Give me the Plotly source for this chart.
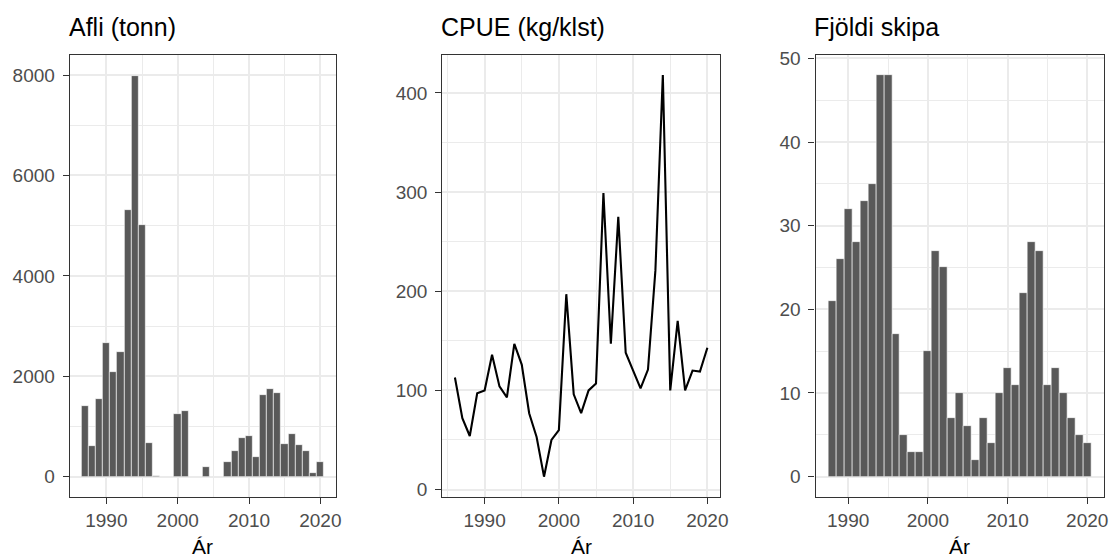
import plotly.graph_objects as go

# ---- data ----
afli_years = list(range(1987, 2021))
afli = [1400, 610, 1550, 2670, 2080, 2480, 5320, 7990, 5020, 670, 10,
        None, None, 1250, 1300, None, None, 200, None, None,
        300, 520, 770, 810, 400, 1630, 1750, 1670, 650, 840, 630, 510, 80, 290]

cpue_years = list(range(1986, 2021))
cpue = [113, 72, 54, 97, 100, 136, 104, 93, 147, 126, 77, 53, 13, 50, 60,
        197, 96, 77, 100, 107, 299, 147, 275, 138, 120, 102, 121, 221, 418,
        100, 170, 100, 120, 119, 143]

skip_years = list(range(1988, 2021))
skip = [21, 26, 32, 28, 33, 35, 48, 48, 17, 5, 3, 3, 15, 27, 25, 7, 10, 6, 2, 7,
        4, 10, 13, 11, 22, 28, 27, 11, 13, 10, 7, 5, 4]

titles = ["Afli (tonn)", "CPUE (kg/klst)", "Fjöldi skipa"]
xlabel = "Ár"

W, H = 1113, 559
FONT = "Liberation Sans, Arial, sans-serif"

def px_x(p):
    return p / W

def px_y(p):
    return (H - p) / H

top_px, bot_px = 55, 496.7
ydom = [px_y(bot_px), px_y(top_px)]
xdoms = [[px_x(69.7), px_x(335.7)], [px_x(442.3), px_x(720)], [px_x(815.5), px_x(1104)]]
xranges = [[1984.86, 2022.15], [1984.3, 2021.7], [1985.9, 2022.1]]
yranges = [[-400, 8400], [-7.2, 438.2], [-2.4, 50.4]]
ydticks = [2000, 100, 10]

fig = go.Figure()
fig.add_trace(go.Bar(x=afli_years, y=afli, marker=dict(color="#595959", line=dict(color="rgba(255,255,255,0.85)", width=0.7)),
                     xaxis="x", yaxis="y", showlegend=False))
fig.add_trace(go.Scatter(x=cpue_years, y=cpue, mode="lines", line=dict(color="black", width=2.1),
                         xaxis="x2", yaxis="y2", showlegend=False))
fig.add_trace(go.Bar(x=skip_years, y=skip, marker=dict(color="#595959", line=dict(color="rgba(255,255,255,0.85)", width=0.7)),
                     xaxis="x3", yaxis="y3", showlegend=False))

common = dict(showline=True, mirror=True, linecolor="#333333", linewidth=1.1,
              ticks="outside", ticklen=6, tickwidth=1.2, tickcolor="#333333",
              showgrid=True, gridcolor="#EBEBEB", gridwidth=1.5, zeroline=False,
              automargin=False,
              tickfont=dict(family=FONT, size=19, color="#4D4D4D"))

layout = dict(width=W, height=H, margin=dict(l=0, r=0, t=0, b=0, pad=0, autoexpand=False),
              plot_bgcolor="white", paper_bgcolor="white", bargap=0,
              font=dict(family=FONT), showlegend=False)

annotations = []
for i in range(3):
    sx = "" if i == 0 else str(i + 1)
    layout["xaxis" + sx] = dict(domain=xdoms[i], range=xranges[i], anchor="y" + sx,
                                tickmode="linear", tick0=1990, dtick=10,
                                minor=dict(tick0=1985, dtick=5, showgrid=True, gridcolor="#EBEBEB",
                                           gridwidth=0.8, ticklen=0),
                                **common)
    layout["yaxis" + sx] = dict(domain=ydom, range=yranges[i], anchor="x" + sx,
                                tickmode="linear", tick0=0, dtick=ydticks[i],
                                minor=dict(tick0=ydticks[i] / 2, dtick=ydticks[i], showgrid=True,
                                           gridcolor="#EBEBEB", gridwidth=0.8, ticklen=0),
                                ticklabelstandoff=4,
                                **common)
    annotations.append(dict(text=titles[i], xref="paper", yref="paper",
                            x=xdoms[i][0], y=px_y(27), xanchor="left", yanchor="middle",
                            xshift=-3, showarrow=False,
                            font=dict(family=FONT, size=25, color="black")))
    annotations.append(dict(text=xlabel, xref="paper", yref="paper",
                            x=(xdoms[i][0] + xdoms[i][1]) / 2, y=0, xanchor="center",
                            yanchor="bottom", borderpad=0, showarrow=False,
                            font=dict(family=FONT, size=21, color="black")))
layout["annotations"] = annotations
fig.update_layout(**layout)
fig.write_html("out.html",
               config={"displayModeBar": False},
               post_script="document.body.style.margin='0';document.body.style.overflow='hidden';")
